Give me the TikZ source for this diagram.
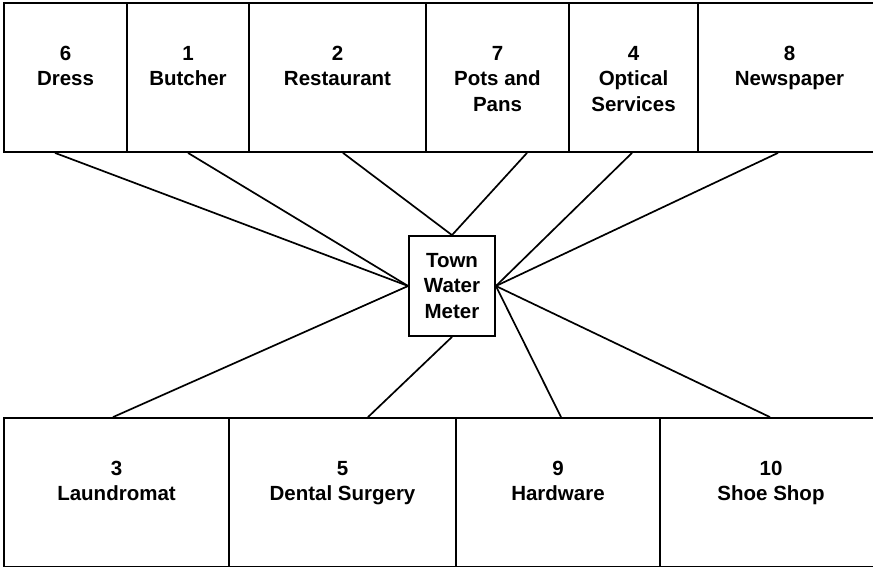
\documentclass[tikz,border=0pt]{standalone}
\usepackage{fontspec}
\setmainfont{Liberation Sans}
\newcommand\fstline{\rule{0pt}{15pt}}
\begin{document}
\begin{tikzpicture}[x=1pt,y=-1pt,
  shop/.style={draw, line width=1.8pt, rectangle, inner sep=0pt, minimum height=149pt},
  lbl/.style={anchor=north, inner sep=0pt, align=center, font=\fontsize{20.5}{25.5}\selectfont\bfseries},
  meter/.style={draw, line width=1.8pt, rectangle, inner sep=0pt, minimum width=86pt, minimum height=100pt, align=center, font=\fontsize{20.5}{25.5}\selectfont\bfseries},
  link/.style={line width=1.7pt}]
\useasboundingbox (0,0) rectangle (873,566);
\clip (0,0) rectangle (873,566);
% top row
\node[shop, minimum width=123pt] (b6) at (65.5,77.5) {};
\node[shop, minimum width=122pt] (b1) at (188,77.5) {};
\node[shop, minimum width=177pt] (b2) at (337.5,77.5) {};
\node[shop, minimum width=143pt] (b7) at (497.5,77.5) {};
\node[shop, minimum width=129pt] (b4) at (633.5,77.5) {};
\node[shop, minimum width=183pt] (b8) at (789.5,77.5) {};
\node[lbl] (t6) at (65.5,45) {\fstline 6\\Dress};
\node[lbl] (t1) at (188,45) {\fstline 1\\Butcher};
\node[lbl] (t2) at (337.5,45) {\fstline 2\\Restaurant};
\node[lbl] (t7) at (497.5,45) {\fstline 7\\Pots and\\Pans};
\node[lbl] (t4) at (633.5,45) {\fstline 4\\Optical\\Services};
\node[lbl] (t8) at (789.5,45) {\fstline 8\\Newspaper};
% bottom row
\node[shop, minimum width=225pt] (b3) at (116.5,492.5) {};
\node[shop, minimum width=227pt] (b5) at (342.5,492.5) {};
\node[shop, minimum width=204pt] (b9) at (558,492.5) {};
\node[shop, minimum width=222pt] (b10) at (771,492.5) {};
\node[lbl] (t3) at (116.5,460) {\fstline 3\\Laundromat};
\node[lbl] (t5) at (342.5,460) {\fstline 5\\Dental Surgery};
\node[lbl] (t9) at (558,460) {\fstline 9\\Hardware};
\node[lbl] (t10) at (771,460) {\fstline 10\\Shoe Shop};
% meter
\node[meter] (m) at (452,286) {Town\\Water\\Meter};
% connectors
\draw[link] ([xshift=-10.5pt]b6.south) -- (m.west);
\draw[link] (b1.south) -- (m.west);
\draw[link] ([xshift=5.5pt]b2.south) -- (m.north);
\draw[link] ([xshift=29.5pt]b7.south) -- (m.north);
\draw[link] ([xshift=-1.5pt]b4.south) -- (m.east);
\draw[link] ([xshift=-11.5pt]b8.south) -- (m.east);
\draw[link] ([xshift=-3.5pt]b3.north) -- (m.west);
\draw[link] ([xshift=25.5pt]b5.north) -- (m.south);
\draw[link] ([xshift=3pt]b9.north) -- (m.east);
\draw[link] ([xshift=-1pt]b10.north) -- (m.east);
\end{tikzpicture}
\end{document}
